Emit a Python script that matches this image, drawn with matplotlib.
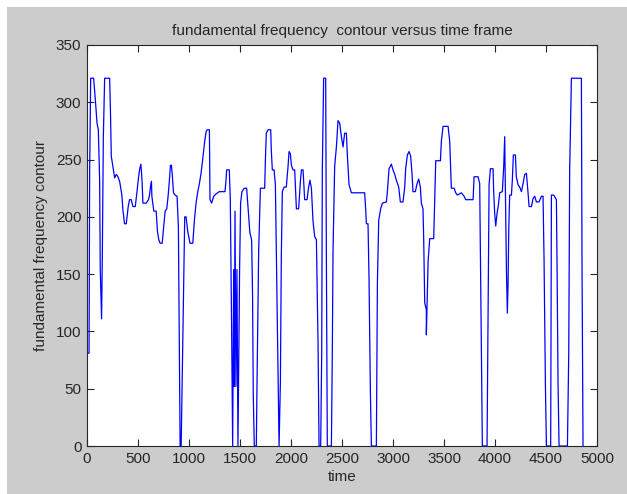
import matplotlib
matplotlib.use("Agg")
import matplotlib.pyplot as plt
from matplotlib.patches import Rectangle

# time (samples) and fundamental frequency contour values
time = [0, 0, 20, 26, 36, 65, 82, 98, 111, 124, 130, 143, 150, 160, 173, 222, 231, 238,
        254, 271, 287, 303, 320, 342, 352, 368, 385, 404, 417, 434, 450, 473, 489, 502,
        515, 528, 535, 541, 548, 580, 603, 613, 622, 632, 636, 645, 655, 678, 691, 704,
        717, 737, 753, 766, 782, 795, 808, 818, 828, 835, 848, 864, 883, 896, 903, 913,
        923, 932, 949, 958, 971, 988, 1010, 1037, 1053, 1069, 1086, 1102, 1118, 1134,
        1154, 1167, 1177, 1200, 1206, 1222, 1242, 1265, 1297, 1353, 1363, 1369, 1395,
        1405, 1418, 1428, 1438, 1444, 1451, 1460, 1470, 1480, 1496, 1506, 1519, 1542,
        1565, 1581, 1597, 1614, 1623, 1630, 1640, 1660, 1667, 1683, 1700, 1742, 1749,
        1758, 1775, 1801, 1807, 1817, 1834, 1847, 1856, 1873, 1883, 1896, 1905, 1915,
        1932, 1954, 1971, 1981, 1994, 2004, 2020, 2036, 2053, 2075, 2092, 2102, 2118,
        2134, 2157, 2173, 2186, 2200, 2216, 2232, 2249, 2265, 2275, 2291, 2301, 2307,
        2320, 2340, 2347, 2356, 2396, 2405, 2412, 2428, 2445, 2461, 2477, 2494, 2510,
        2526, 2543, 2553, 2569, 2592, 2641, 2722, 2732, 2739, 2755, 2765, 2778, 2788,
        2837, 2847, 2860, 2879, 2896, 2935, 2945, 2961, 2984, 3000, 3017, 3033, 3056,
        3072, 3098, 3115, 3124, 3141, 3157, 3173, 3187, 3196, 3219, 3236, 3252, 3268,
        3278, 3294, 3301, 3311, 3327, 3327, 3344, 3360, 3399, 3409, 3419, 3465, 3474,
        3491, 3540, 3556, 3566, 3572, 3599, 3615, 3631, 3670, 3697, 3713, 3785, 3795,
        3834, 3850, 3863, 3876, 3922, 3932, 3942, 3955, 3981, 3987, 3997, 4007, 4020,
        4033, 4046, 4072, 4086, 4095, 4102, 4112, 4121, 4128, 4135, 4144, 4161, 4170,
        4180, 4200, 4209, 4226, 4242, 4259, 4275, 4291, 4308, 4324, 4334, 4357, 4373,
        4389, 4406, 4432, 4455, 4471, 4481, 4494, 4504, 4546, 4553, 4576, 4602, 4608,
        4618, 4628, 4710, 4723, 4732, 4749, 4847, 4853, 4863]
f0 = [0, 81, 81, 240, 321, 321, 302, 282, 276, 232, 154, 111, 164, 269, 321, 321, 288, 253,
      244, 234, 237, 235, 231, 219, 206, 194, 194, 209, 215, 215, 209, 209, 221, 232,
      241, 246, 238, 229, 212, 212, 215, 219, 226, 231, 218, 212, 205, 205, 187, 180,
      177, 177, 193, 205, 207, 218, 232, 245, 245, 238, 221, 219, 218, 191, 109, 0,
      0, 50, 151, 200, 200, 187, 177, 177, 197, 212, 222, 229, 238, 250,
      266, 274, 276, 276, 215, 212, 218, 220, 222, 222, 232, 241, 241,
      215, 101, 0, 154, 52, 205, 52, 154, 0, 154, 212, 222, 225,
      225, 205, 186, 180, 133, 45, 0, 0, 56, 170, 225, 225, 250,
      273, 276, 276, 258, 241, 241, 228, 170, 56, 0, 56, 165, 222,
      226, 226, 244, 257, 255, 245, 241, 241, 207, 207, 231, 241, 241,
      215, 215, 226, 232, 225, 196, 183, 180, 90, 0, 0, 81, 240,
      321, 321, 161, 0, 0, 81, 170, 244, 261, 284, 282, 270, 261,
      273, 273, 253, 228, 221, 221, 221, 207, 194, 194, 146, 49, 0,
      0, 142, 197, 207, 212, 213, 222, 242, 246, 241, 237, 232, 226,
      213, 213, 226, 242, 254, 257, 253, 237, 222, 222, 229, 233, 226,
      212, 207, 180, 125, 119, 97, 161, 181, 181, 215, 249, 249, 266,
      279, 279, 266, 240, 225, 225, 221, 219, 221, 218, 215, 215, 235,
      235, 229, 114, 0, 0, 111, 228, 242, 242, 222, 203, 192, 203,
      210, 221, 222, 245, 270, 222, 154, 116, 142, 189, 219, 219, 232,
      254, 254, 235, 228, 226, 222, 229, 237, 238, 221, 209, 209, 216,
      218, 213, 213, 218, 218, 162, 55, 0, 0, 219, 219, 215, 162,
      55, 0, 0, 81, 240, 321, 321, 161, 0]

x_ticks = [0, 500, 1000, 1500, 2000, 2500, 3000, 3500, 4000, 4500, 5000]
y_ticks = [0, 50, 100, 150, 200, 250, 300, 350]

plt.rcParams['font.family'] = ['Liberation Sans', 'DejaVu Sans']

fig = plt.figure(figsize=(6.27, 4.94), dpi=100, facecolor='white')
fig.patches.append(Rectangle((7 / 627, 0), 1, 1 - 7 / 494, transform=fig.transFigure,
                             facecolor='#cccccc', edgecolor='none', zorder=-10))

ax = fig.add_axes([87 / 627, 48 / 494, 510 / 627, 401 / 494])
ax.set_facecolor('white')
ax.plot(time, f0, color='#0000ff', linewidth=0.9)
ax.set_xlim(0, 5000)
ax.set_ylim(0, 350)
ax.set_xticks(x_ticks)
ax.set_yticks(y_ticks)
ax.tick_params(direction='in', length=5, width=0.8, top=True, right=True,
               labelsize=11, colors='#262626', pad=4)
for s in ax.spines.values():
    s.set_color('#262626')
    s.set_linewidth(0.8)
ax.set_title('fundamental frequency  contour versus time frame', fontsize=11,
             color='#262626', pad=7)
ax.set_xlabel('time', fontsize=11, color='#262626', labelpad=3)
ax.set_ylabel('fundamental frequency contour', fontsize=11, color='#262626', labelpad=6)

fig.savefig('out.png', dpi=100, facecolor=fig.get_facecolor())
